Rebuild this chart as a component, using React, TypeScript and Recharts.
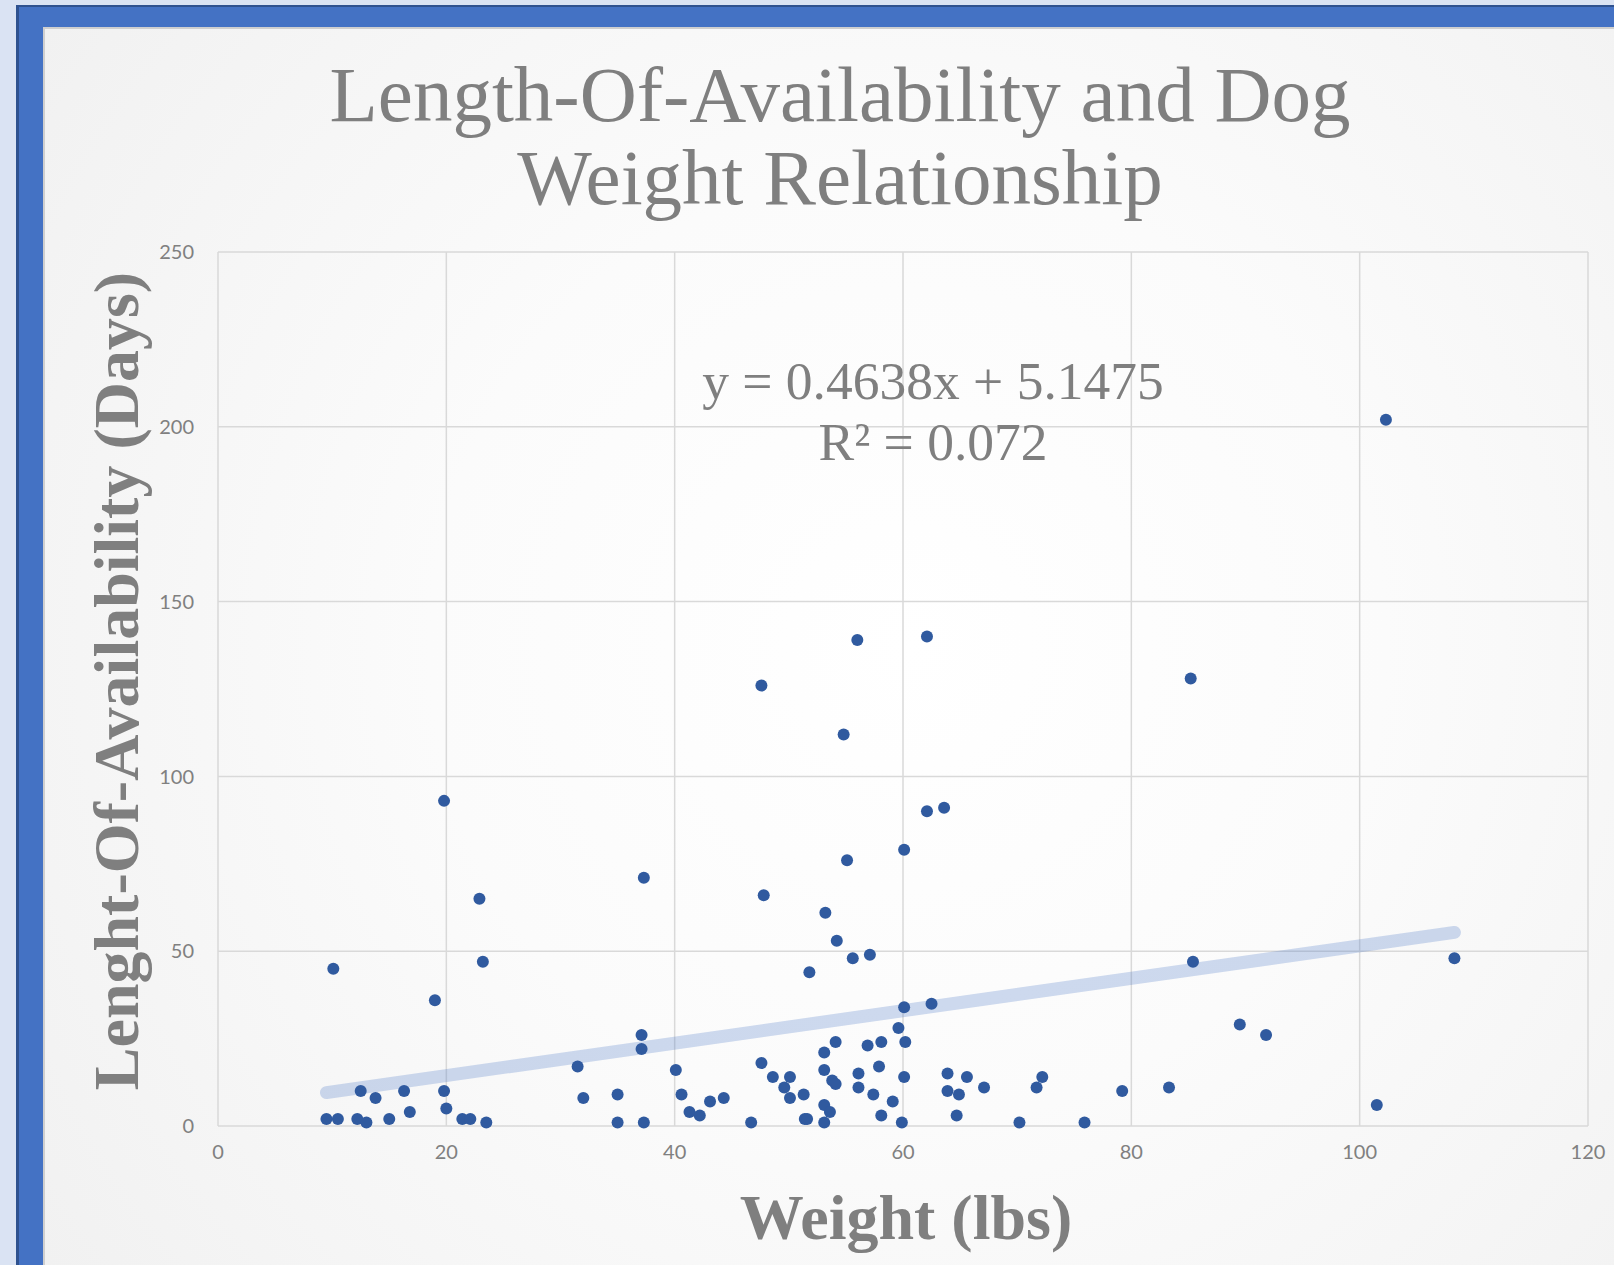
import {
  CartesianGrid,
  Scatter,
  ScatterChart,
  XAxis,
  YAxis
} from "recharts";

// dog weight (lbs) and days available
const weights = [
  9.5, 10.5, 10.1, 12.2, 12.5, 13, 13.8, 15, 16.3, 16.8,
  19, 19.8, 19.8, 20, 21.4, 22.1, 22.9, 23.2, 23.5, 31.5,
  32, 35, 35, 37.3, 37.1, 37.1, 37.3, 40.1, 40.6, 41.3,
  42.2, 43.1, 44.3, 46.7, 47.6, 47.8, 47.6, 48.6, 49.6, 50.1,
  50.1, 51.3, 51.4, 51.6, 51.8, 53.1, 53.1, 53.1, 53.1, 53.2,
  53.6, 53.8, 54.1, 54.1, 54.2, 54.8, 55.1, 55.6, 56, 56.1,
  56.1, 56.9, 57.1, 57.4, 57.9, 58.1, 58.1, 59.1, 59.6, 59.9,
  60.1, 60.1, 60.1, 60.2, 62.1, 62.1, 62.5, 63.6, 63.9, 63.9,
  64.7, 64.9, 65.6, 67.1, 70.2, 71.7, 72.2, 75.9, 79.2, 83.3,
  85.2, 85.4, 89.5, 91.8, 101.5, 102.3, 108.3
];
const days = [
  2, 2, 45, 2, 10, 1, 8, 2, 10, 4,
  36, 93, 10, 5, 2, 2, 65, 47, 1, 17,
  8, 9, 1, 71, 26, 22, 1, 16, 9, 4,
  3, 7, 8, 1, 126, 66, 18, 14, 11, 14,
  8, 9, 2, 2, 44, 21, 16, 6, 1, 61,
  4, 13, 12, 24, 53, 112, 76, 48, 139, 15,
  11, 23, 49, 9, 17, 24, 3, 7, 28, 1,
  79, 34, 14, 24, 140, 90, 35, 91, 15, 10,
  3, 9, 14, 11, 1, 11, 14, 1, 10, 11,
  128, 47, 29, 26, 6, 202, 48
];

const xTicks = [0, 20, 40, 60, 80, 100, 120];
const yTicks = [0, 50, 100, 150, 200, 250];

// linear trendline shown in the chart
const slope = 0.4638;
const intercept = 5.1475;

const points = weights.map((w, i) => ({ weight: w, days: days[i] }));
const xMin = Math.min(...weights);
const xMax = Math.max(...weights);
const trend = [
  { weight: xMin, days: slope * xMin + intercept },
  { weight: xMax, days: slope * xMax + intercept }
];

const W = 1614;
const H = 1265;
const serif = '"Liberation Serif", "Times New Roman", serif';
const textGray = "#7f7f7f";
const dotColor = "#305a9f";
const tickStyle = { fontSize: 20, fill: "#808080", fontFamily: "Lato, sans-serif" } as const;

export default function App() {
  return (
    <div style={{ position: "absolute", left: 0, top: 0, width: W, height: H, background: "#dae3f3", overflow: "hidden" }}>
      {/* blue frame with its darker outer edge */}
      <div style={{ position: "absolute", left: 16, top: 5, right: 0, bottom: 0, background: "#2f528f" }} />
      <div style={{ position: "absolute", left: 19, top: 7, right: 0, bottom: 0, background: "#4472c4" }} />
      <div
        style={{
          position: "absolute",
          left: 43,
          top: 27,
          right: 0,
          bottom: 0,
          borderLeft: "2px solid #cfcfcf",
          borderTop: "2px solid #cfcfcf",
          background: "radial-gradient(circle at 55% 50%, #ffffff 0%, #fbfbfb 45%, #f1f1f1 100%)"
        }}
      />

      <div style={{ position: "absolute", left: 0, top: 0 }}>
        <ScatterChart
          width={W}
          height={H}
          margin={{ top: 252, right: 26, bottom: 99, left: 158 }}
        >
          <CartesianGrid stroke="#d9d9d9" strokeWidth={1.5} />
          <XAxis
            type="number"
            dataKey="weight"
            domain={[0, 120]}
            ticks={xTicks}
            height={40}
            axisLine={false}
            tickLine={false}
            tick={tickStyle}
            tickMargin={13}
            interval={0}
          />
          <YAxis
            type="number"
            dataKey="days"
            domain={[0, 250]}
            ticks={yTicks}
            width={60}
            axisLine={false}
            tickLine={false}
            tick={tickStyle}
            tickMargin={18}
            interval={0}
          />
          <Scatter
            data={trend}
            line={{ stroke: "#4472c4", strokeWidth: 13, strokeOpacity: 0.26, strokeLinecap: "round" }}
            lineType="joint"
            shape={() => <g />}
            isAnimationActive={false}
          />
          <Scatter data={points} fill={dotColor} isAnimationActive={false} shape={(props: any) => (
            <circle cx={props.cx} cy={props.cy} r={6} fill={dotColor} />
          )} />
        </ScatterChart>
      </div>

      <svg width={W} height={H} style={{ position: "absolute", left: 0, top: 0, pointerEvents: "none" }}>
        <g fill={textGray} fontFamily={serif}>
          <text x={840} y={121} fontSize={79} textAnchor="middle">Length-Of-Availability and Dog</text>
          <text x={840} y={204} fontSize={79} textAnchor="middle">Weight Relationship</text>
          <text x={933} y={399} fontSize={53.5} textAnchor="middle">y = 0.4638x + 5.1475</text>
          <text x={933} y={460} fontSize={53.5} textAnchor="middle">R² = 0.072</text>
          <text x={906} y={1239} fontSize={64} fontWeight="bold" textAnchor="middle">Weight (lbs)</text>
          <text
            transform="translate(138, 681) rotate(-90)"
            fontSize={64}
            fontWeight="bold"
            textAnchor="middle"
          >
            Lenght-Of-Availability (Days)
          </text>
        </g>
      </svg>
    </div>
  );
}
